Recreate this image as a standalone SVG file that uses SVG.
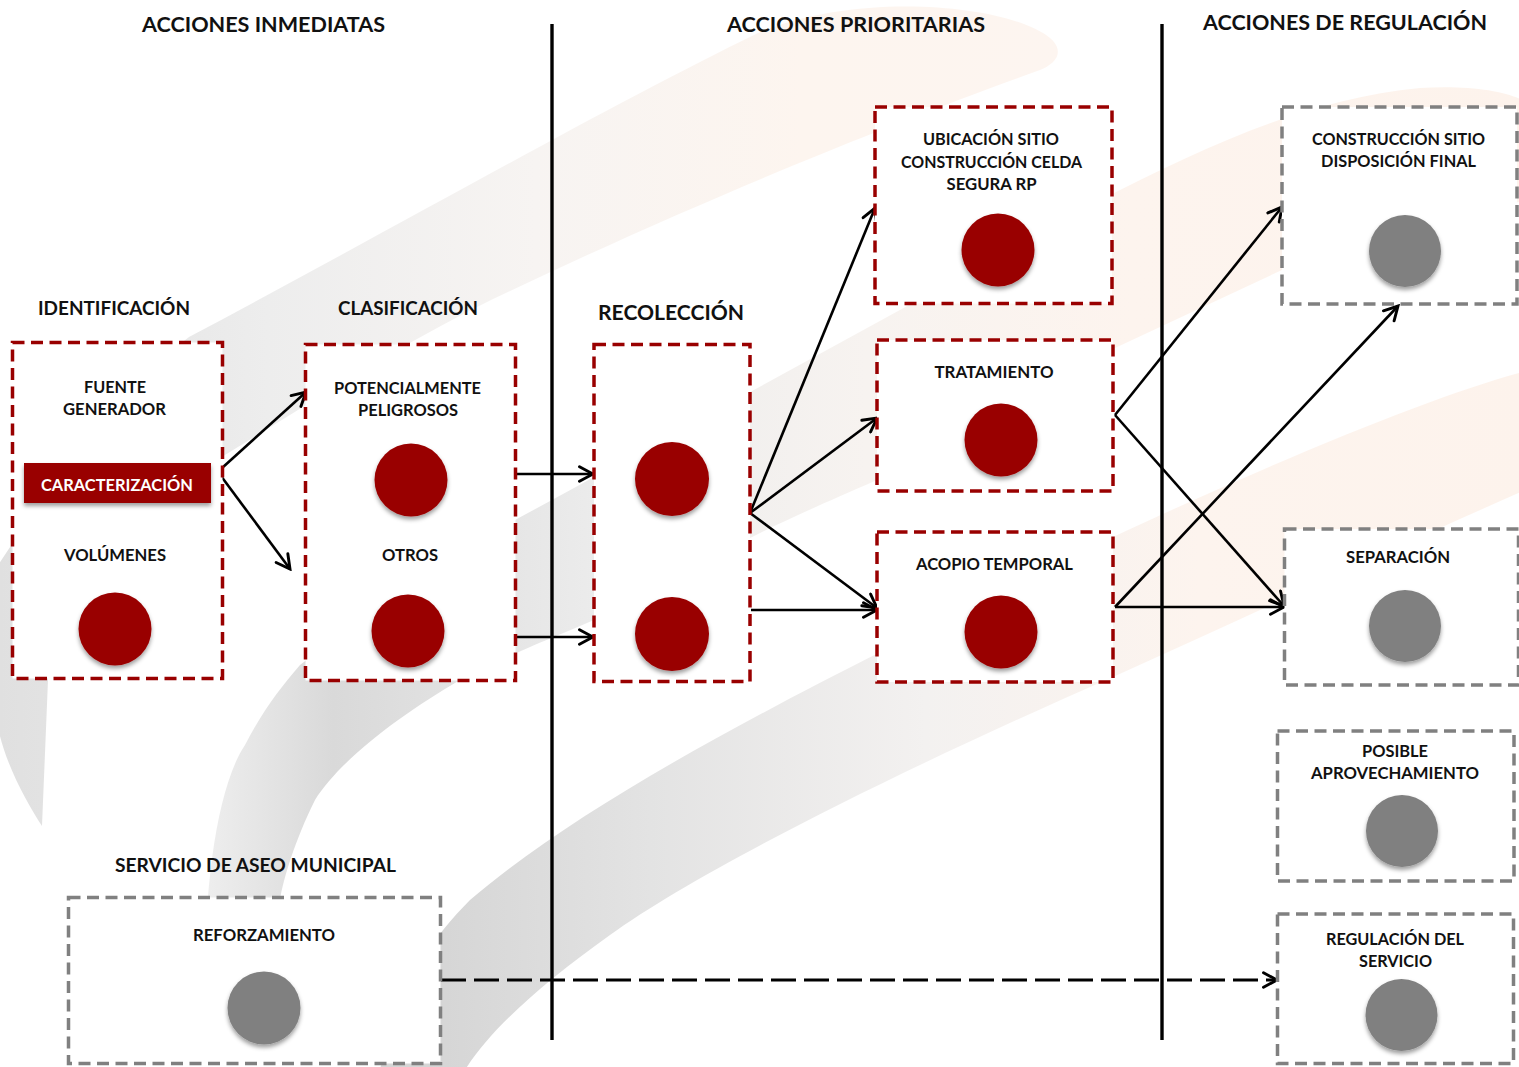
<svg xmlns="http://www.w3.org/2000/svg" width="1519" height="1067" viewBox="0 0 1519 1067">
  <defs>
    <style>
      .hd { font-family: Lato, "Liberation Sans", sans-serif; font-weight: 700; font-size: 21px; fill: #111; text-anchor: middle; }
      .sub { font-family: Lato, "Liberation Sans", sans-serif; font-weight: 700; font-size: 19px; fill: #111; text-anchor: middle; }
      .lbl { font-family: Lato, "Liberation Sans", sans-serif; font-weight: 700; font-size: 17px; fill: #111; text-anchor: middle; }
      .tag { font-family: Lato, "Liberation Sans", sans-serif; font-weight: 700; font-size: 17px; fill: #ffffff; text-anchor: middle; }
      .boxR { fill: #ffffff; stroke: #990000; stroke-width: 3.5; stroke-dasharray: 12 6.5; }
      .boxG { fill: #ffffff; stroke: #808080; stroke-width: 3.5; stroke-dasharray: 12 6.5; }
      .dotR { fill: #990000; filter: url(#shadow); }
      .dotG { fill: #808080; filter: url(#shadow); }
      .divider { stroke: #000; stroke-width: 3.4; }
      .link { fill: none; stroke: #000; stroke-width: 2.6; marker-end: url(#arrow); }
      .link-dash { fill: none; stroke: #000; stroke-width: 3.2; stroke-dasharray: 25 8; marker-end: url(#arrow); }
    </style>
    <filter id="shadow" x="-30%" y="-30%" width="160%" height="170%">
      <feDropShadow dx="0" dy="3" stdDeviation="2" flood-color="#000" flood-opacity="0.38"/>
    </filter>
    <marker id="arrow" markerUnits="userSpaceOnUse" markerWidth="18" markerHeight="18" viewBox="0 0 16 16" refX="14" refY="8" orient="auto">
      <path d="M2,1.5 L14,8 L2,14.5" fill="none" stroke="#000" stroke-width="2.6" stroke-dasharray="none" stroke-linecap="round" stroke-linejoin="miter"/>
    </marker>
    <linearGradient id="swA" gradientUnits="userSpaceOnUse" x1="0" y1="0" x2="1070" y2="0">
      <stop offset="0" stop-color="#e0e0e0"/>
      <stop offset="0.25" stop-color="#ededed"/>
      <stop offset="0.5" stop-color="#f7f4f2"/>
      <stop offset="0.75" stop-color="#fdf5ef"/>
      <stop offset="1" stop-color="#fdf5f0"/>
    </linearGradient>
    <linearGradient id="swB" gradientUnits="userSpaceOnUse" x1="200" y1="0" x2="1530" y2="0">
      <stop offset="0" stop-color="#efefef"/>
      <stop offset="0.1" stop-color="#d9d9d9"/>
      <stop offset="0.3" stop-color="#ececec"/>
      <stop offset="0.5" stop-color="#f7f3f0"/>
      <stop offset="0.7" stop-color="#fdf4ee"/>
      <stop offset="1" stop-color="#fdf3ec"/>
    </linearGradient>
    <linearGradient id="swC" gradientUnits="userSpaceOnUse" x1="430" y1="0" x2="1530" y2="0">
      <stop offset="0" stop-color="#d5d5d5"/>
      <stop offset="0.2" stop-color="#e3e3e3"/>
      <stop offset="0.45" stop-color="#f3f1f0"/>
      <stop offset="0.7" stop-color="#fdf4ee"/>
      <stop offset="1" stop-color="#fdf3ec"/>
    </linearGradient>
  </defs>

  <rect width="1519" height="1067" fill="#ffffff"/>

  <!-- decorative swooshes behind the chart -->
  <g id="background">
    <path fill="url(#swA)" d="M42,826 C22,795 -5,745 -5,700 L-5,570 C40,500 120,390 189,337 C400,225 600,110 758,33 C860,-10 1010,5 1050,38 C1066,52 1055,64 1040,70 C900,120 700,200 491,300 C380,355 300,410 225,455 C120,520 50,600 48,680 Z"/>
    <path fill="url(#swB)" d="M205,1000 C203,900 215,790 245,745 C262,712 280,688 300,665 C370,610 440,560 515,520 C700,420 900,310 1100,200 C1200,150 1300,100 1420,88 C1480,84 1530,95 1530,110 L1530,200 C1450,215 1380,232 1282,270 L1100,355 C1000,405 940,450 877,480 C820,505 790,518 750,538 L594,620 C560,635 530,645 460,680 C400,715 340,760 315,800 C295,840 283,880 280,900 L270,1000 Z"/>
    <path fill="url(#swC)" d="M380,1070 C395,1000 420,950 470,900 C600,790 800,690 1113,537 C1300,450 1450,390 1530,370 L1530,488 C1400,545 1250,615 1113,677 C900,770 700,870 610,935 C540,985 490,1030 465,1070 Z"/>
  </g>

  <!-- column dividers -->
  <g id="dividers">
    <line class="divider" x1="552" y1="24" x2="552" y2="1040"/>
    <line class="divider" x1="1162" y1="24" x2="1162" y2="1040"/>
  </g>

  <!-- column and stage headings -->
  <g id="headings">
    <text class="hd" x="263.5" y="32" textLength="243" lengthAdjust="spacingAndGlyphs">ACCIONES INMEDIATAS</text>
    <text class="hd" x="856" y="32" textLength="258" lengthAdjust="spacingAndGlyphs">ACCIONES PRIORITARIAS</text>
    <text class="hd" x="1345" y="30" textLength="284" lengthAdjust="spacingAndGlyphs">ACCIONES DE REGULACIÓN</text>
    <text class="sub" x="114" y="315" textLength="152" lengthAdjust="spacingAndGlyphs">IDENTIFICACIÓN</text>
    <text class="sub" x="408" y="315" textLength="140" lengthAdjust="spacingAndGlyphs">CLASIFICACIÓN</text>
    <text class="hd" x="671" y="320" textLength="146" lengthAdjust="spacingAndGlyphs">RECOLECCIÓN</text>
    <text class="sub" x="255.5" y="872" textLength="281" lengthAdjust="spacingAndGlyphs">SERVICIO DE ASEO MUNICIPAL</text>
  </g>

  <!-- connectors -->
  <g id="connectors">
    <line class="link" x1="222" y1="468" x2="306" y2="392"/>
    <line class="link" x1="221" y1="476" x2="290" y2="569"/>
    <line class="link" x1="516" y1="474" x2="593" y2="474"/>
    <line class="link" x1="516" y1="637" x2="593" y2="637"/>
    <line class="link" x1="750" y1="513" x2="875" y2="208"/>
    <line class="link" x1="750" y1="513" x2="877" y2="418"/>
    <line class="link" x1="750" y1="513" x2="877" y2="608"/>
    <line class="link" x1="751" y1="610" x2="877" y2="610"/>
    <line class="link" x1="1115" y1="415" x2="1282" y2="207"/>
    <line class="link" x1="1115" y1="415" x2="1284" y2="606"/>
    <line class="link" x1="1115" y1="607" x2="1398" y2="306"/>
    <line class="link" x1="1115" y1="607" x2="1284" y2="607"/>
    <line class="link-dash" x1="441" y1="980" x2="1277" y2="980"/>
  </g>

  <!-- immediate actions -->
  <g id="identificacion">
    <rect class="boxR" x="12.5" y="342.5" width="210" height="336"/>
    <text class="lbl" x="115" y="393" textLength="62" lengthAdjust="spacingAndGlyphs">FUENTE</text>
    <text class="lbl" x="114.5" y="415" textLength="103" lengthAdjust="spacingAndGlyphs">GENERADOR</text>
    <rect x="24" y="463" width="187" height="40" fill="#990000" filter="url(#shadow)"/>
    <text class="tag" x="117" y="491" textLength="152" lengthAdjust="spacingAndGlyphs">CARACTERIZACIÓN</text>
    <text class="lbl" x="115" y="561" textLength="102" lengthAdjust="spacingAndGlyphs">VOLÚMENES</text>
    <circle class="dotR" cx="115" cy="629" r="36.5"/>
  </g>

  <g id="clasificacion">
    <rect class="boxR" x="305.5" y="344.5" width="210" height="336"/>
    <text class="lbl" x="407.5" y="394" textLength="147" lengthAdjust="spacingAndGlyphs">POTENCIALMENTE</text>
    <text class="lbl" x="408" y="416" textLength="100" lengthAdjust="spacingAndGlyphs">PELIGROSOS</text>
    <circle class="dotR" cx="411" cy="480" r="36.5"/>
    <text class="lbl" x="410" y="561" textLength="56" lengthAdjust="spacingAndGlyphs">OTROS</text>
    <circle class="dotR" cx="408" cy="631" r="36.5"/>
  </g>

  <g id="aseo-municipal">
    <rect class="boxG" x="68.5" y="897.5" width="372" height="166"/>
    <text class="lbl" x="264" y="941" textLength="142" lengthAdjust="spacingAndGlyphs">REFORZAMIENTO</text>
    <circle class="dotG" cx="264" cy="1008" r="36.5"/>
  </g>

  <!-- priority actions -->
  <g id="recoleccion">
    <rect class="boxR" x="594" y="344.5" width="156" height="337"/>
    <circle class="dotR" cx="672" cy="479" r="37"/>
    <circle class="dotR" cx="672" cy="634" r="37"/>
  </g>

  <g id="ubicacion-sitio">
    <rect class="boxR" x="875" y="107" width="237" height="196.5"/>
    <text class="lbl" x="991" y="145" textLength="136" lengthAdjust="spacingAndGlyphs">UBICACIÓN SITIO</text>
    <text class="lbl" x="991.5" y="168" textLength="181" lengthAdjust="spacingAndGlyphs">CONSTRUCCIÓN CELDA</text>
    <text class="lbl" x="991.5" y="190" textLength="90" lengthAdjust="spacingAndGlyphs">SEGURA RP</text>
    <circle class="dotR" cx="998" cy="250" r="36.5"/>
  </g>

  <g id="tratamiento">
    <rect class="boxR" x="877" y="340" width="236" height="151"/>
    <text class="lbl" x="994" y="378" textLength="119" lengthAdjust="spacingAndGlyphs">TRATAMIENTO</text>
    <circle class="dotR" cx="1001" cy="440" r="36.5"/>
  </g>

  <g id="acopio-temporal">
    <rect class="boxR" x="877" y="532" width="236" height="150"/>
    <text class="lbl" x="994.5" y="570" textLength="157" lengthAdjust="spacingAndGlyphs">ACOPIO TEMPORAL</text>
    <circle class="dotR" cx="1001" cy="632" r="36.5"/>
  </g>

  <!-- regulation actions -->
  <g id="disposicion-final">
    <rect class="boxG" x="1282" y="107" width="235" height="197"/>
    <text class="lbl" x="1398.5" y="145" textLength="173" lengthAdjust="spacingAndGlyphs">CONSTRUCCIÓN SITIO</text>
    <text class="lbl" x="1398.5" y="167" textLength="155" lengthAdjust="spacingAndGlyphs">DISPOSICIÓN FINAL</text>
    <circle class="dotG" cx="1405" cy="251" r="36"/>
  </g>

  <g id="separacion">
    <rect class="boxG" x="1284.5" y="529" width="234" height="156"/>
    <text class="lbl" x="1398" y="563" textLength="104" lengthAdjust="spacingAndGlyphs">SEPARACIÓN</text>
    <circle class="dotG" cx="1405" cy="626" r="36"/>
  </g>

  <g id="aprovechamiento">
    <rect class="boxG" x="1277.5" y="731" width="236.5" height="150"/>
    <text class="lbl" x="1395" y="757" textLength="66" lengthAdjust="spacingAndGlyphs">POSIBLE</text>
    <text class="lbl" x="1395" y="779" textLength="168" lengthAdjust="spacingAndGlyphs">APROVECHAMIENTO</text>
    <circle class="dotG" cx="1402" cy="831" r="36"/>
  </g>

  <g id="regulacion-servicio">
    <rect class="boxG" x="1277.5" y="914" width="236" height="149.5"/>
    <text class="lbl" x="1395" y="945" textLength="138" lengthAdjust="spacingAndGlyphs">REGULACIÓN DEL</text>
    <text class="lbl" x="1395.5" y="967" textLength="73" lengthAdjust="spacingAndGlyphs">SERVICIO</text>
    <circle class="dotG" cx="1401.5" cy="1015" r="36"/>
  </g>
</svg>
